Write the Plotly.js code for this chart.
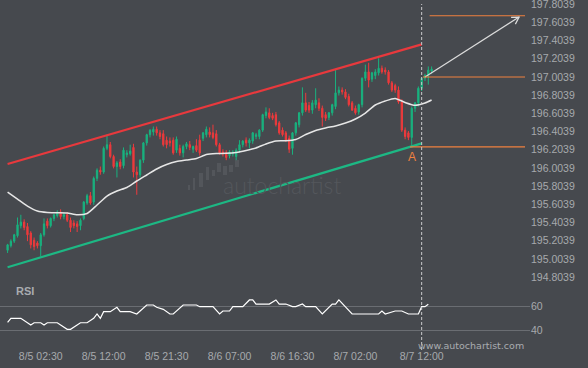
<!DOCTYPE html>
<html><head><meta charset="utf-8">
<script src="https://cdn.plot.ly/plotly-3.0.1.min.js"></script>
<style>html,body{margin:0;padding:0;background:#46494e;}#chart{width:588px;height:368px;}</style>
</head><body><div id="chart"></div>
<script>
// ---- data (30-minute candles starting 2019-08-04 21:30) ----
const startTime = '2019-08-04T21:30:00Z';
const openP  = [195.10,195.15,195.20,195.26,195.37,195.41,195.36,195.29,195.21,195.18,195.15,195.27,195.42,195.37,195.45,195.48,195.52,195.47,195.49,195.43,195.40,195.39,195.37,195.45,195.62,195.70,195.63,195.89,195.98,195.96,196.22,196.26,196.13,196.02,196.07,196.03,196.15,196.16,196.23,195.96,195.93,196.09,196.28,196.37,196.40,196.43,196.39,196.38,196.31,196.30,196.31,196.20,196.22,196.17,196.24,196.26,196.21,196.25,196.31,196.33,196.37,196.40,196.39,196.38,196.26,196.18,196.17,196.14,196.16,196.13,196.20,196.26,196.31,196.28,196.30,196.35,196.35,196.42,196.58,196.61,196.58,196.59,196.50,196.42,196.39,196.33,196.22,196.39,196.48,196.61,196.72,196.69,196.64,196.70,196.72,196.66,196.59,196.56,196.61,196.68,196.83,196.86,196.84,196.79,196.72,196.66,196.62,196.70,196.99,197.06,196.98,197.02,197.05,197.10,197.08,197.06,196.94,196.91,196.86,196.73,196.42,196.39,196.34,196.66,196.72,196.88,196.99,197.02,197.07];
const highP  = [195.17,195.22,195.28,195.46,195.49,195.44,195.40,195.31,195.24,195.20,195.29,195.45,195.45,195.46,195.50,195.54,195.55,195.51,195.52,195.46,195.43,195.42,195.45,195.64,195.72,195.74,195.91,196.00,196.02,196.24,196.37,196.29,196.15,196.08,196.10,196.23,196.20,196.26,196.27,196.02,196.10,196.29,196.38,196.43,196.46,196.46,196.42,196.42,196.35,196.34,196.34,196.35,196.26,196.26,196.29,196.30,196.25,196.32,196.37,196.40,196.46,196.45,196.48,196.42,196.28,196.21,196.20,196.20,196.20,196.22,196.31,196.31,196.34,196.33,196.40,196.39,196.43,196.60,196.67,196.66,196.61,196.62,196.52,196.45,196.41,196.36,196.40,196.51,196.62,196.89,196.83,196.73,196.75,196.88,196.77,196.69,196.62,196.62,196.71,197.08,196.90,196.89,196.87,196.82,196.74,196.69,196.71,197.00,197.14,197.16,197.06,197.09,197.21,197.13,197.11,197.08,196.96,196.93,196.90,196.76,196.45,196.41,196.68,196.73,196.90,197.00,197.04,197.12,197.12];
const lowP   = [195.07,195.13,195.18,195.24,195.34,195.32,195.20,195.12,195.10,195.12,195.03,195.25,195.34,195.35,195.42,195.46,195.44,195.44,195.41,195.30,195.34,195.30,195.32,195.43,195.60,195.60,195.60,195.86,195.93,195.94,196.20,196.11,196.00,195.90,195.99,196.00,196.12,196.14,195.90,195.71,195.90,196.06,196.25,196.34,196.36,196.36,196.32,196.24,196.22,196.24,196.15,196.17,196.14,196.12,196.21,196.20,196.17,196.18,196.14,196.30,196.34,196.34,196.32,196.24,196.15,196.13,196.09,196.11,196.13,196.09,196.17,196.23,196.24,196.22,196.27,196.32,196.32,196.40,196.55,196.54,196.53,196.46,196.37,196.35,196.29,196.17,196.15,196.36,196.45,196.58,196.62,196.61,196.60,196.66,196.63,196.46,196.52,196.53,196.58,196.65,196.80,196.81,196.76,196.68,196.63,196.59,196.59,196.67,196.96,196.89,196.95,196.98,197.02,197.04,197.03,196.92,196.84,196.83,196.71,196.40,196.32,196.31,196.24,196.62,196.68,196.85,196.96,196.92,197.04];
const closeP = [195.16,195.20,195.27,195.38,195.41,195.35,195.27,195.16,195.14,195.15,195.27,195.39,195.37,195.45,195.49,195.52,195.47,195.49,195.43,195.35,195.37,195.36,195.43,195.63,195.70,195.62,195.89,195.98,195.96,196.22,196.26,196.13,196.02,196.06,196.02,196.20,196.17,196.19,195.96,195.93,196.09,196.28,196.37,196.42,196.43,196.39,196.35,196.26,196.26,196.28,196.17,196.32,196.17,196.24,196.27,196.23,196.24,196.20,196.17,196.39,196.43,196.37,196.34,196.26,196.17,196.16,196.12,196.18,196.18,196.20,196.26,196.30,196.28,196.31,196.39,196.37,196.42,196.59,196.62,196.56,196.55,196.48,196.39,196.37,196.31,196.21,196.39,196.50,196.61,196.72,196.64,196.64,196.72,196.75,196.66,196.56,196.55,196.61,196.70,196.83,196.86,196.84,196.78,196.70,196.64,196.61,196.70,196.99,197.06,196.97,197.05,197.06,197.10,197.06,197.06,196.94,196.86,196.86,196.73,196.42,196.35,196.34,196.66,196.72,196.88,196.99,197.02,197.08,197.09];

// moving average (sampled at candle index)
const maIdx = [0,3,6,9,12,15,18,21,24,27,30,33,36,39,42,45,48,51,54,57,60,63,66,69,72,75,78,81,84,87,90,93,96,99,102,105,108,111,114,117,120,123,126,128];
const maVal = [195.740,195.663,195.586,195.531,195.515,195.512,195.509,195.490,195.504,195.597,195.696,195.751,195.790,195.861,195.927,195.993,196.042,196.075,196.092,196.108,196.152,196.163,196.165,196.174,196.196,196.224,196.268,196.301,196.303,196.317,196.372,196.416,196.444,196.466,196.498,196.542,196.608,196.696,196.740,196.768,196.724,196.693,196.718,196.751];

// RSI (vertices, candle index)
const rsiIdx = [0,1,4,7,8,10,11,12,15,18,19,21,22,24,26,27,28,29,31,33,34,37,39,42,44,45,47,49,50,53,57,58,62,64,65,67,68,71,73,74,75,79,81,82,84,86,87,89,90,93,95,98,99,100,104,112,113,114,117,119,121,124,125,126,127];
const rsiVal = [46.7,50,50,44.4,46.3,46.3,44.4,46.3,46.3,40.8,40.8,44.4,46.3,46.3,50,53.6,50,55.5,55.5,59.2,55.5,55.5,53.6,61.1,61.1,59.2,57.5,53.6,53.6,61.1,61.1,59.7,59.7,53.6,56.1,56.1,59.7,59.7,65.3,65.3,61.9,61.9,65.3,61.9,61.9,59.7,59.7,61.9,59.7,59.7,53.6,61.9,61.9,65.3,53.6,53.6,56.1,53.6,56.1,56.1,53.6,53.6,59.7,59.7,61.7];

// pattern (channel) and targets
const resistIdx = [0,125], resistVal = [196.048,197.363];
const supportIdx = [0,125], supportVal = [194.913,196.275];
const levelVal = [196.235,197.0039,197.677];
const levelStartIdx = [121.5,125.4,127.4];
const levelEndIdx = 156.2;
const arrowIdx = [126,154.4], arrowVal = [197.004,197.663];
const pointAIdx = 122;
const nowIdx = 125;

// axes
const priceTicks = [194.8039,195.0039,195.2039,195.4039,195.6039,195.8039,196.0039,196.2039,196.4039,196.6039,196.8039,197.0039,197.2039,197.4039,197.6039,197.8039];
const timeTickIdx = [10,29,48,67,86,105,125];
const timeTickLabels = ['8/5 02:30','8/5 12:00','8/5 21:30','8/6 07:00','8/6 16:30','8/7 02:00','8/7 12:00'];
const rsiTicks = [40,60];

// ---- helpers ----
const T0 = Date.parse(startTime);
function t(i){ return new Date(T0 + i*1800000).toISOString().slice(0,19).replace('T',' '); }
const times = openP.map((_,i)=>t(i));

const BG='#46494e', TXT='#a6a9ad', GREEN='#19b27f', RED='#ee3a3c', ORANGE='#f0813f';
const W=530, H=345;
const px=(v)=>v/W, py=(v)=>1-v/H;
const tf = {family:'Liberation Sans, Arial, sans-serif', size:10.5, color:TXT};

const traces = [
  {type:'candlestick', x:times, open:openP, high:highP, low:lowP, close:closeP,
   increasing:{line:{color:GREEN,width:1},fillcolor:GREEN},
   decreasing:{line:{color:RED,width:1},fillcolor:RED},
   whiskerwidth:0, showlegend:false, hoverinfo:'skip', xaxis:'x', yaxis:'y'},
  {type:'scatter', mode:'lines', x:maIdx.map(t), y:maVal, line:{color:'#e6e6e6',width:1.5,shape:'spline',smoothing:0.6}, hoverinfo:'skip', showlegend:false},
  {type:'scatter', mode:'lines', x:resistIdx.map(t), y:resistVal, line:{color:'#e8393d',width:2.2}, hoverinfo:'skip', showlegend:false},
  {type:'scatter', mode:'lines', x:supportIdx.map(t), y:supportVal, line:{color:'#1db884',width:2.2}, hoverinfo:'skip', showlegend:false},
  {type:'scatter', mode:'lines', x:arrowIdx.map(t), y:arrowVal, line:{color:'#dcdcdc',width:1.2}, hoverinfo:'skip', showlegend:false},
  {type:'scatter', mode:'lines', x:rsiIdx.map(t), y:rsiVal, line:{color:'#ffffff',width:1.2}, xaxis:'x', yaxis:'y2', hoverinfo:'skip', showlegend:false}
];
levelVal.forEach((v,k)=>{
  traces.push({type:'scatter', mode:'lines', x:[t(levelStartIdx[k]), t(levelEndIdx)], y:[v,v], line:{color:ORANGE,width:1.2}, hoverinfo:'skip', showlegend:false});
});

const logoBars = [[188,190,185,190],[193,195,178,190],[199,203,173,187],[206,209,167,180],[212,215,170,176],[217,221,163,172],[223,227,166,175],[229,233,165,172],[235,239,160,167]];
const shapes = logoBars.map(b=>({type:'rect', xref:'paper', yref:'paper', x0:px(b[0]), x1:px(b[1]), y0:py(b[3]), y1:py(b[2]), fillcolor:'#53565b', line:{width:0}, layer:'below'}));
shapes.push({type:'line', xref:'x', yref:'paper', x0:t(nowIdx), x1:t(nowIdx), y0:py(350), y1:py(4), line:{color:'#c9cacc',width:1,dash:'3px,2px'}});
shapes.push({type:'path', xref:'x', yref:'y', xsizemode:'pixel', ysizemode:'pixel', xanchor:t(arrowIdx[1]), yanchor:arrowVal[1], path:'M -3.7 -7.1 L 0 0 L -8 -0.4', line:{color:'#dcdcdc',width:1.2}});

const annotations = [
  {xref:'paper', yref:'paper', x:px(14), y:py(291), xanchor:'left', yanchor:'middle', text:'<b>RSI</b>', showarrow:false, font:{family:'Liberation Sans, Arial', size:11, color:'#a9acb0'}},
  {xref:'x', yref:'y', x:t(pointAIdx), y:lowP[pointAIdx], xanchor:'center', yanchor:'top', yshift:-1, text:'A', showarrow:false, font:{family:'Liberation Sans, Arial', size:12, color:ORANGE}},
  {xref:'paper', yref:'paper', x:px(471), y:py(345), xanchor:'center', yanchor:'middle', text:'www.autochartist.com', showarrow:false, font:{family:'DejaVu Sans, sans-serif', size:9.5, color:'#a9acb0'}},
  {xref:'paper', yref:'paper', x:px(282), y:py(185), xanchor:'center', yanchor:'middle', text:'autochartist', showarrow:false, font:{family:'Lato, sans-serif', size:23, weight:300, color:'#54575c'}}
];

const layout = {
  width:588, height:368, margin:{l:0,r:58,t:0,b:23},
  paper_bgcolor:BG, plot_bgcolor:BG, showlegend:false, boxgap:0.45,
  xaxis:{type:'date', anchor:'y2', range:[t(-2.29), t(157.7)], tickvals:timeTickIdx.map(t), ticktext:timeTickLabels,
         showgrid:false, zeroline:false, showline:false, ticks:'', tickfont:tf, ticklabelstandoff:3, ticklabeloverflow:'allow',
         rangeslider:{visible:false}, fixedrange:true},
  yaxis:{domain:[1-285/H,1], range:[194.7182,197.8501], side:'right', tickvals:priceTicks, ticktext:priceTicks.map(v=>v.toFixed(4)),
         showgrid:false, zeroline:false, showline:false, ticks:'', tickfont:tf, ticklabeloverflow:'allow', fixedrange:true},
  yaxis2:{domain:[0,55/H], range:[27.75,73.6], side:'right', anchor:'x', tickvals:rsiTicks, ticktext:rsiTicks.map(String),
          showgrid:true, gridcolor:'#6a6d72', gridwidth:1, zeroline:false, showline:false, ticks:'', tickfont:tf, fixedrange:true},
  shapes:shapes, annotations:annotations
};
Plotly.newPlot('chart', traces, layout, {staticPlot:true, displayModeBar:false});
</script></body></html>
